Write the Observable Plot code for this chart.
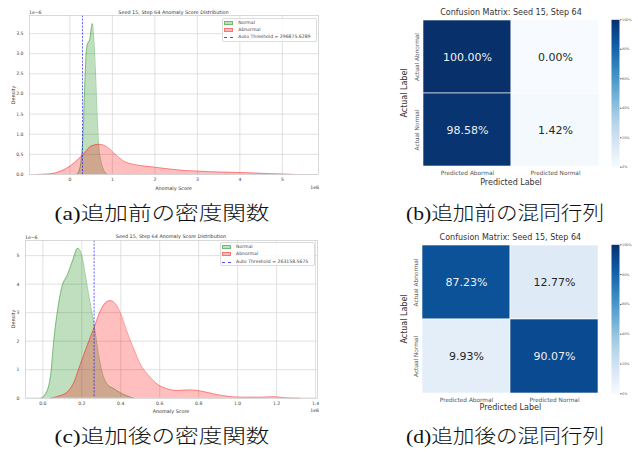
<!DOCTYPE html>
<html><head><meta charset="utf-8">
<script src="https://cdn.jsdelivr.net/npm/d3@7"></script>
<script src="https://cdn.jsdelivr.net/npm/@observablehq/plot@0.6"></script>
<style>
body{margin:0;background:#fff;}
#root{position:relative;width:638px;height:453px;overflow:hidden;font-family:"DejaVu Sans",sans-serif;background:#fff;}
#root svg{overflow:visible;}
</style></head><body><div id="root"></div>
<script>
// ---- data (density x in units of 1e6, density y in units of 1e-6) ----
const beforeNormalX = [0.16,0.22,0.27,0.31,0.35,0.39,0.43,0.47,0.50,0.53,0.56,0.60,0.64,0.68,0.74,0.80,0.88];
const beforeNormalY = [0,0.1,0.4,1.0,2.2,3.1,3.28,3.35,3.6,3.75,3.4,2.6,1.5,0.7,0.3,0.1,0];
const beforeAbnormalX = [-0.77,-0.55,-0.38,-0.18,0.02,0.21,0.37,0.49,0.69,0.88,1.07,1.27,1.5,1.75,2.0,2.3,2.7,3.07,3.5,4.0,4.6,5.0,5.3];
const beforeAbnormalY = [0,0.01,0.03,0.1,0.22,0.39,0.56,0.7,0.75,0.68,0.5,0.33,0.25,0.21,0.18,0.14,0.1,0.08,0.06,0.05,0.025,0.01,0];
const beforeThreshold = 296875.6289;

const afterNormalX = [-0.01,0.014,0.04,0.056,0.074,0.1,0.125,0.15,0.18,0.2,0.224,0.245,0.265,0.284,0.305,0.33,0.365,0.41,0.45,0.467];
const afterNormalY = [0,0.15,0.8,2.0,3.0,3.95,4.3,4.77,5.26,5.0,4.07,3.25,2.5,1.6,0.9,0.5,0.33,0.15,0.035,0];
const afterAbnormalX = [0.04,0.08,0.125,0.16,0.19,0.228,0.262,0.296,0.33,0.347,0.373,0.4,0.433,0.467,0.5,0.544,0.587,0.638,0.69,0.758,0.81,0.878,0.946,1.015,1.118,1.186,1.255,1.32];
const afterAbnormalY = [0,0.07,0.21,0.56,1.14,1.85,2.45,3.07,3.39,3.42,3.31,2.96,2.31,1.73,1.2,0.79,0.5,0.33,0.27,0.29,0.25,0.15,0.07,0.035,0.035,0.05,0.01,0];
const afterThreshold = 263158.5675;

const beforeXTicks = [0,1,2,3,4,5];
const beforeYTicks = [0,0.5,1.0,1.5,2.0,2.5,3.0,3.5];
const afterXTicks = [0,0.2,0.4,0.6,0.8,1.0,1.2,1.4];
const afterYTicks = [0,1,2,3,4,5];

const predLabels = ["Predicted Abormal","Predicted Normal"];
const actualLabels = ["Actual Abnormal","Actual Normal"];
const beforeMatrix = [[100.00,0.00],[98.58,1.42]];
const afterMatrix = [[87.23,12.77],[9.93,90.07]];
const colorbarTicks = [0,20,40,60,80,100];

const densityTitle = "Seed 15, Step 64 Anomaly Score Distribution";
const cmTitle = "Confusion Matrix: Seed 15, Step 64";
const captions = ["(a)追加前の密度関数","(b)追加前の混同行列","(c)追加後の密度関数","(d)追加後の混同行列"];

// ---- helpers ----
const root = document.getElementById("root");
function place(el, x, y){ el.style.position="absolute"; el.style.left=x+"px"; el.style.top=y+"px"; root.appendChild(el); return el; }
function txt(s, x, y, size, o={}){
  const d=document.createElement("div"); d.textContent=s;
  d.style.cssText=`position:absolute;left:${x}px;top:${y}px;font-size:${size}px;white-space:nowrap;line-height:1;color:${o.color||"#333"};font-family:${o.font||'"DejaVu Sans"'};font-weight:${o.weight||400};transform:translate(${o.ax??-50}%,-50%)${o.rot?` rotate(${o.rot}deg)`:""};`;
  root.appendChild(d); return d;
}
function legend(x,y,w,h,rowsY,thrText){
  const b=document.createElement("div");
  b.style.cssText=`position:absolute;left:${x}px;top:${y}px;width:${w}px;height:${h}px;border:0.6px solid #dcdcdc;border-radius:2px;background:rgba(255,255,255,0.85);box-sizing:border-box;`;
  root.appendChild(b);
  const items=[["Normal","rgba(0,128,0,0.25)","rgba(0,128,0,0.4)"],["Abnormal","rgba(255,0,0,0.25)","rgba(255,0,0,0.4)"]];
  items.forEach((it,i)=>{
    const s=document.createElement("div");
    s.style.cssText=`position:absolute;left:${x+2}px;top:${rowsY[i]-2}px;width:9px;height:4px;background:${it[1]};border:0.4px solid ${it[2]};box-sizing:border-box;`;
    root.appendChild(s);
    txt(it[0], x+16, rowsY[i], 4.6, {ax:0,color:"#444"});
  });
  const l=document.createElement("div");
  l.style.cssText=`position:absolute;left:${x+2}px;top:${rowsY[2]}px;width:9px;height:0;border-top:0.7px dashed rgba(0,0,255,0.7);`;
  root.appendChild(l);
  txt(thrText, x+16, rowsY[2], 4.6, {ax:0,color:"#444"});
}

function densityPanel(o){
  const normal=o.nx.map((x,i)=>({x,y:o.ny[i]}));
  const abn=o.ax.map((x,i)=>({x,y:o.ay[i]}));
  const curve="monotone-x";
  const p=Plot.plot({
    width:o.w,height:o.h,marginLeft:o.ml,marginRight:o.mr,marginTop:o.mt,marginBottom:o.mb,
    x:{domain:o.xd},y:{domain:o.yd},
    style:{fontFamily:"DejaVu Sans",background:"transparent"},
    marks:[
      Plot.gridX(o.xt,{stroke:"#d4d4d4",strokeOpacity:1,strokeWidth:0.7}),
      Plot.gridY(o.yt,{stroke:"#d4d4d4",strokeOpacity:1,strokeWidth:0.7}),
      Plot.areaY(normal,{x:"x",y:"y",fill:"green",fillOpacity:0.25,curve}),
      Plot.lineY(normal,{x:"x",y:"y",stroke:"green",strokeOpacity:0.45,strokeWidth:0.8,curve}),
      Plot.areaY(abn,{x:"x",y:"y",fill:"red",fillOpacity:0.25,curve}),
      Plot.lineY(abn,{x:"x",y:"y",stroke:"red",strokeOpacity:0.45,strokeWidth:0.8,curve}),
      Plot.ruleX([o.thr/1e6],{stroke:"blue",strokeOpacity:0.75,strokeWidth:0.8,strokeDasharray:"2.2,1.3"}),
      Plot.frame({stroke:"#d0d0d0",strokeWidth:0.8}),
      Plot.axisX(o.xt,{tickFormat:o.xf,tickSize:0,tickPadding:o.xpad,fontSize:4.6,label:null,fill:"#444"}),
      Plot.axisY(o.yt,{tickFormat:o.yf,tickSize:0,tickPadding:o.ypad,fontSize:4.6,label:null,fill:"#444"})
    ]
  });
  place(p,o.left,o.top);
  const cx=o.left+o.ml+(o.w-o.ml-o.mr)/2;
  txt(densityTitle,cx,o.top+o.titleY,4.9);
  txt("Anomaly Score",cx,o.top+o.xlabY,4.9);
  txt("Density",o.left+13,o.top+o.mt+(o.h-o.mt-o.mb)/2,4.9,{rot:-90});
  txt("1e−6",o.left+o.ml,o.top+o.expY,4.6,{ax:0});
  txt("1e6",o.left+o.w-1,o.top+o.xlabY,4.6,{ax:-100});
}

function cmPanel(o){
  const data=[];
  actualLabels.forEach((a,i)=>predLabels.forEach((p,j)=>data.push({p,a,v:o.m[i][j]})));
  const color={type:"linear",scheme:"blues",domain:[0,100]};
  const p=Plot.plot({
    width:o.w,height:o.h,marginLeft:o.ml,marginRight:o.mr,marginTop:o.mt,marginBottom:o.mb,
    x:{domain:predLabels,padding:0},y:{domain:actualLabels,padding:0},color,
    style:{fontFamily:"DejaVu Sans",background:"transparent"},
    marks:[
      Plot.cell(data,{x:"p",y:"a",fill:"v",stroke:"white",strokeWidth:0.6}),
      Plot.text(data.filter(d=>d.v>=50),{x:"p",y:"a",text:d=>d.v.toFixed(2)+"%",fill:"#f0f0f0",fontSize:11}),
      Plot.text(data.filter(d=>d.v<50),{x:"p",y:"a",text:d=>d.v.toFixed(2)+"%",fill:"#262626",fontSize:11}),
      Plot.axisX({tickSize:0,tickPadding:4,fontSize:5.8,label:null,fill:"#555"}),
      Plot.axisY({tickSize:0,tickPadding:4,fontSize:5.8,tickRotate:-90,label:null,fill:"#555"})
    ]
  });
  place(p,o.left,o.top);
  const cb=Plot.plot({
    width:28,height:o.h,marginLeft:0,marginRight:20,marginTop:o.mt,marginBottom:o.mb,
    x:{domain:[0,1],axis:null},y:{domain:[0,100]},color,
    style:{fontFamily:"DejaVu Sans",background:"transparent"},
    marks:[
      Plot.raster({fill:(x,y)=>y,x1:0,x2:1,y1:0,y2:100,width:1,height:200}),
      Plot.axisY(colorbarTicks,{anchor:"right",tickFormat:d=>d+"%",tickSize:1.5,tickPadding:1,fontSize:3.4,label:null,fill:"#555",stroke:"#555"})
    ]
  });
  place(cb,o.cbLeft,o.top);
  const cx=o.left+o.ml+(o.w-o.ml-o.mr)/2;
  txt(cmTitle,cx,o.top+13.3,8,{color:"#333"});
  txt("Predicted Label",cx,o.top+183.3,8,{color:"#333"});
  txt("Actual Label",o.left+85,o.top+o.mt+(o.h-o.mt-o.mb)/2,8,{rot:-90,color:"#333"});
}

// ---- panels ----
densityPanel({left:0,top:0,w:320,h:196,ml:29,mr:2,mt:15,mb:22,nx:beforeNormalX,ny:beforeNormalY,ax:beforeAbnormalX,ay:beforeAbnormalY,
  thr:beforeThreshold,xd:[-0.95,5.85],yd:[0,3.95],xt:beforeXTicks,yt:beforeYTicks,xf:d3.format("d"),yf:d3.format(".1f"),
  xpad:3.5,ypad:6,titleY:11.7,xlabY:188,expY:13});
legend(222.3,18.3,95,23.4,[23,30,37.3],"Auto Threshold = "+beforeThreshold.toFixed(4));

densityPanel({left:0,top:225,w:320,h:196,ml:25,mr:3,mt:15,mb:23.3,nx:afterNormalX,ny:afterNormalY,ax:afterAbnormalX,ay:afterAbnormalY,
  thr:afterThreshold,xd:[-0.089,1.41],yd:[0,5.53],xt:afterXTicks,yt:afterYTicks,xf:d3.format(".1f"),yf:d3.format("d"),
  xpad:3.5,ypad:6,titleY:11,xlabY:186,expY:12.7});
legend(220,242.3,95,23.4,[246.7,254.3,261.7],"Auto Threshold = "+afterThreshold.toFixed(4));

cmPanel({left:320,top:0,w:318,h:196,ml:102.7,mr:38.7,mt:19.3,mb:29.3,m:beforeMatrix,cbLeft:610.7});
cmPanel({left:320,top:225,w:318,h:196,ml:101.7,mr:39,mt:19.3,mb:27.7,m:afterMatrix,cbLeft:610.7});

// ---- captions ----
const capPos=[[162,214.3,215],[505,214.3,198],[162,437,215],[505,437,198]];
captions.forEach((c,i)=>{
  const d=txt(c,capPos[i][0],capPos[i][1],19.5,{font:'"Liberation Serif","Noto Sans CJK JP",serif',color:"#111",weight:300});
  const wdt=d.getBoundingClientRect().width;
  const s=capPos[i][2]/wdt;
  d.style.transform=`translate(-50%,-50%) scaleX(${s.toFixed(3)})`;
});
</script></body></html>
